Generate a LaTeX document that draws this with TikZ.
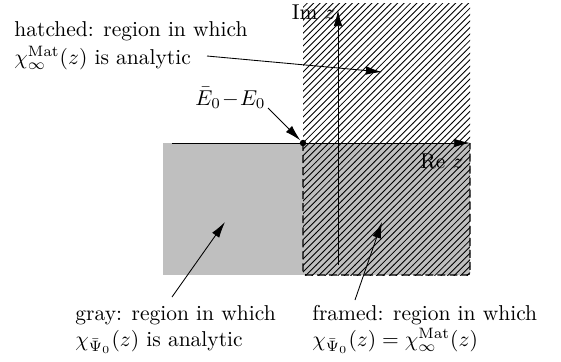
\documentclass[tikz,border=0pt]{standalone}
\usepackage{amsmath}
\usetikzlibrary{arrows.meta, patterns, positioning}

\begin{document}
\begin{tikzpicture}[
        x=0.465pt, y=-0.465pt,
        axis/.style={-{Latex[length=7.5pt,width=4pt]}, thin},
        pointer/.style={-{Latex[length=7.5pt,width=4pt]}, thin},
        label/.style={inner sep=0pt, align=left, anchor=north west},
        frame/.style={dash pattern=on 3.7pt off 1.9pt, semithick, rounded corners=1.5pt}
    ]
        \useasboundingbox (0,0) rectangle (561,362);

        % Regions
        \fill[gray!50] (163,143) rectangle (470,275);
        \fill[pattern=north east lines] (303,3) rectangle (470,275);
        \draw[frame] (303,143) -- (303,275) -- (470,275) -- (470,143);

        % Axes
        \coordinate (reL) at (172,143);
        \coordinate (reR) at (470,143);
        \coordinate (imB) at (338,265);
        \coordinate (imT) at (338,10);
        \draw[axis] (reL) -- (reR);
        \draw[axis] (imB) -- (imT);
        \node[anchor=base east, inner sep=0pt] (imlbl) at (336,20) {Im $z$};
        \node[anchor=base east, inner sep=0pt] (relbl) at (464,168) {Re $z$};

        % Branch point
        \node[circle, fill, inner sep=0pt, minimum size=3pt] (bp) at (303,143) {};
        \node[anchor=base west, inner sep=0pt] (e0lbl) at (195,105) {$\bar{E}_0\!-\!E_0$};
        \draw[pointer] (268,108) -- (bp);

        % Labels
        \node[label] (hatchlbl) at (14,21) {hatched: region in which\\[1pt] $\chi_\infty^{\mathrm{Mat}}(z)$ is analytic};
        \node[label] (graylbl) at (75,305) {gray: region in which\\ $\chi_{\bar\Psi_0}(z)$ is analytic};
        \node[label] (framelbl) at (312,305) {framed: region in which\\ $\chi_{\bar\Psi_0}(z) = \chi_\infty^{\mathrm{Mat}}(z)$};

        \coordinate (hatchtip) at (382,72);
        \coordinate (graytip) at (225,222);
        \coordinate (frametip) at (382,222);
        \draw[pointer] (207,56) -- (hatchtip);
        \draw[pointer] (172,297) -- (graytip);
        \draw[pointer] (355,300) -- (frametip);

    \end{tikzpicture}
\end{document}
